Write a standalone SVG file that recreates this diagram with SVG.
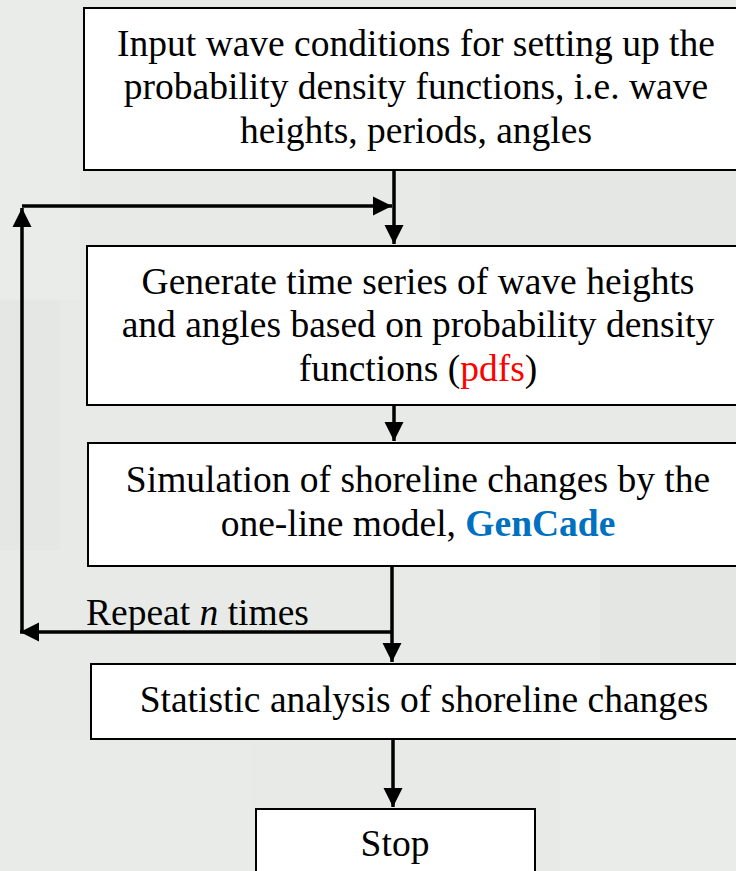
<svg xmlns="http://www.w3.org/2000/svg" width="736" height="871" viewBox="0 0 736 871">
<style>
.box{fill:#fff;stroke:#000;stroke-width:2}
.t{font-family:"Liberation Serif","Times New Roman",serif;font-size:37.5px;fill:#000;text-anchor:middle}
.c{fill:none;stroke:#000;stroke-width:3.5}
</style>
<defs>
<marker id="ah" viewBox="0 0 10 10" refX="10" refY="5" markerWidth="5.5" markerHeight="5.5" markerUnits="strokeWidth" orient="auto">
<path d="M0,0 L10,5 L0,10 z" fill="#000"/>
</marker>
</defs>
<rect width="736" height="871" fill="#e7eae7"/>
<g opacity="0.35">
<rect x="0" y="0" width="80" height="300" fill="#eef0ee"/>
<rect x="0" y="300" width="60" height="250" fill="#e0e3df"/>
<rect x="440" y="170" width="296" height="75" fill="#dfe2de"/>
<rect x="600" y="566" width="136" height="98" fill="#dde1dc"/>
<rect x="0" y="740" width="250" height="131" fill="#eceeeb"/>
<rect x="560" y="740" width="176" height="131" fill="#f0f1ef"/>
</g>
<g id="connectors">
<line class="c" x1="394" y1="170" x2="394" y2="244" marker-end="url(#ah)"/>
<line class="c" x1="22" y1="206" x2="392" y2="206" marker-end="url(#ah)"/>
<line class="c" x1="22" y1="632" x2="22" y2="208" marker-end="url(#ah)"/>
<line class="c" x1="394" y1="405" x2="394" y2="441" marker-end="url(#ah)"/>
<line class="c" x1="392" y1="566" x2="392" y2="662" marker-end="url(#ah)"/>
<line class="c" x1="392" y1="632" x2="20" y2="632" marker-end="url(#ah)"/>
<line class="c" x1="393" y1="739" x2="393" y2="807" marker-end="url(#ah)"/>
</g>
<g id="n1">
<rect class="box" x="84" y="8" width="660" height="162"/>
<text class="t" x="416" y="56">Input wave conditions for setting up the</text>
<text class="t" x="416" y="99">probability density functions, i.e. wave</text>
<text class="t" x="416" y="143">heights, periods, angles</text>
</g>
<g id="n2">
<rect class="box" x="87" y="246" width="660" height="159"/>
<text class="t" x="418" y="294">Generate time series of wave heights</text>
<text class="t" x="418" y="337">and angles based on probability density</text>
<text class="t" x="418" y="381">functions (<tspan fill="#ff0000">pdfs</tspan>)</text>
</g>
<g id="n3">
<rect class="box" x="88" y="443" width="660" height="123"/>
<text class="t" x="418" y="492">Simulation of shoreline changes by the</text>
<text class="t" x="418" y="536">one-line model, <tspan fill="#0070c0" font-weight="bold">GenCade</tspan></text>
</g>
<g id="label">
<text class="t" x="86" y="625" style="text-anchor:start">Repeat <tspan font-style="italic">n</tspan> times</text>
</g>
<g id="n4">
<rect class="box" x="91" y="664" width="660" height="75"/>
<text class="t" x="424" y="712">Statistic analysis of shoreline changes</text>
</g>
<g id="n5">
<rect class="box" x="256" y="809" width="279" height="80"/>
<text class="t" x="395" y="856">Stop</text>
</g>
</svg>
